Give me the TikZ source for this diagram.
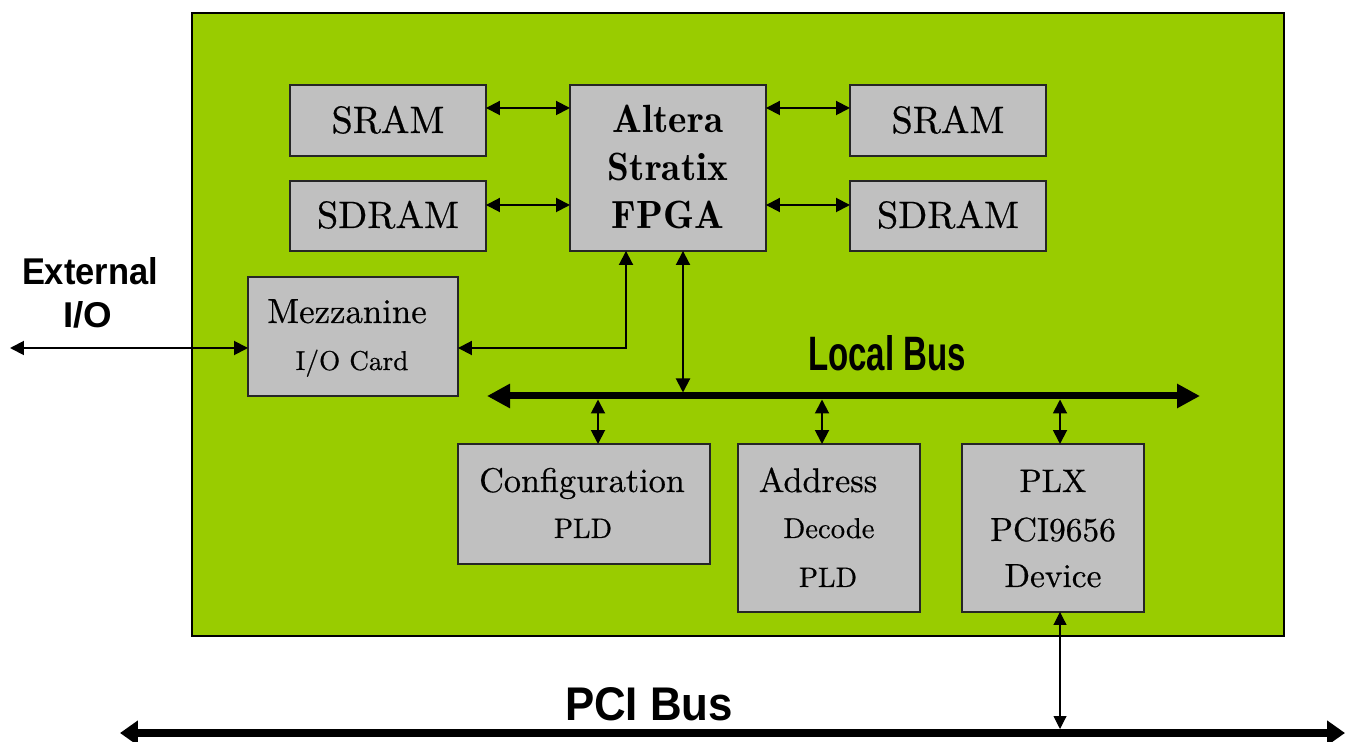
\documentclass[tikz,border=0pt]{standalone}
\usepackage{fontspec}
\usepackage{graphicx}
\usetikzlibrary{arrows.meta,calc}
\setmainfont{lmroman10-regular.otf}[FakeBold=0.5]
\newfontfamily\labelfont{Liberation Sans}
\newfontfamily\demifont{lmromandemi10-regular.otf}
\definecolor{boardgreen}{HTML}{99CC00}
\definecolor{boxgray}{HTML}{C0C0C0}
\tikzset{
  box/.style={draw=black!85, fill=boxgray, line width=1pt, inner sep=0pt, outer sep=0pt, anchor=north west},
  txt/.style={anchor=base, inner sep=0pt},
  lbl/.style={inner sep=0pt, anchor=center},
  arr/.style={line width=1.1pt, arrows={Triangle[length=2.8mm,width=2.8mm]-Triangle[length=2.8mm,width=2.8mm]}},
  thinarr/.style={line width=0.6pt, arrows={Triangle[length=2.6mm,width=2.6mm]-Triangle[length=2.6mm,width=2.6mm]}},
  lbus/.style={line width=0.14cm, arrows={Triangle[length=4.6mm,width=4.6mm]-Triangle[length=4.6mm,width=4.6mm]}},
  pbus/.style={line width=0.16cm, arrows={Triangle[length=3.6mm,width=4.8mm]-Triangle[length=3.6mm,width=4.8mm]}},
}
\begin{document}
\begin{tikzpicture}[x=0.02cm, y=-0.02cm]
\useasboundingbox (0,0) rectangle (1345,742);
% board
\node[box, draw=black, fill=boardgreen, minimum width=21.84cm, minimum height=12.46cm] (board) at (192,13) {};
% boxes
\node[box, minimum width=3.92cm, minimum height=1.42cm] (sramL) at (290,85) {};
\node[box, minimum width=3.92cm, minimum height=1.40cm] (sdramL) at (290,181) {};
\node[box, minimum width=3.92cm, minimum height=3.32cm] (fpga) at (570,85) {};
\node[box, minimum width=3.92cm, minimum height=1.42cm] (sramR) at (850,85) {};
\node[box, minimum width=3.92cm, minimum height=1.40cm] (sdramR) at (850,181) {};
\node[box, minimum width=4.20cm, minimum height=2.38cm] (mezz) at (248,277) {};
\node[box, minimum width=5.04cm, minimum height=2.40cm] (config) at (458,444) {};
\node[box, minimum width=3.64cm, minimum height=3.36cm] (addr) at (738,444) {};
\node[box, minimum width=3.64cm, minimum height=3.36cm] (plx) at (962,444) {};
% texts
\node[txt] (t1) at (388,133) {\fontsize{21.7}{26}\selectfont SRAM};
\node[txt] (t2) at (388,228) {\fontsize{21.7}{26}\selectfont SDRAM};
\node[txt] (t3) at (948,133) {\fontsize{21.7}{26}\selectfont SRAM};
\node[txt] (t4) at (948,228) {\fontsize{21.7}{26}\selectfont SDRAM};
\node[txt] (f1) at (668,133) {\demifont\fontsize{22.4}{26}\selectfont Altera};
\node[txt] (f2) at (668,181) {\demifont\fontsize{22.4}{26}\selectfont Stratix};
\node[txt] (f3) at (668,229) {\demifont\fontsize{22.4}{26}\selectfont FPGA};
\node[txt] (m1) at (347,323) {\fontsize{19.8}{24}\selectfont Mezzanine};
\node[txt] (m2) at (352,370) {\fontsize{15.5}{19}\selectfont I/O Card};
\node[txt] (c1) at (582,492) {\fontsize{19.5}{24}\selectfont Configuration};
\node[txt] (c2) at (583,538) {\fontsize{16}{20}\selectfont PLD};
\node[txt] (a1) at (818,492) {\fontsize{19.5}{24}\selectfont Address};
\node[txt] (a2) at (829,538) {\fontsize{16.3}{20}\selectfont Decode};
\node[txt] (a3) at (828,587) {\fontsize{16}{20}\selectfont PLD};
\node[txt] (p1) at (1053,492) {\fontsize{18.5}{23}\selectfont PLX};
\node[txt] (p2) at (1053,541) {\fontsize{19}{23}\selectfont PCI9656};
\node[txt] (p3) at (1053,587) {\fontsize{19}{23}\selectfont Device};
% bold sans labels
\node[lbl] (ext1) at (90,271) {\resizebox{2.72cm}{0.54cm}{\labelfont\bfseries External}};
\node[lbl] (ext2) at (88,315) {\resizebox{0.98cm}{0.52cm}{\labelfont\bfseries I/O}};
\node[lbl] (lbtxt) at (887,353) {\resizebox{3.16cm}{0.70cm}{\labelfont\bfseries Local Bus}};
\node[lbl] (pbtxt) at (649,704) {\resizebox{3.36cm}{0.66cm}{\labelfont\bfseries PCI Bus}};
% helper coordinates
\coordinate (ya) at (0,108);
\coordinate (yb) at (0,205);
\coordinate (ym) at (0,348);
\coordinate (xa) at (626,0);
\coordinate (xb) at (683,0);
\coordinate (xc) at (598,0);
\coordinate (xd) at (822,0);
\coordinate (xe) at (1060,0);
\coordinate (lbL) at (487,396);
\coordinate (lbR) at (1200,396);
\coordinate (pbL) at (120,733);
\coordinate (pbR) at (1345,733);
\coordinate (extL) at (10,348);
% memory links
\draw[arr] (sramL.east |- ya) -- (fpga.west |- ya);
\draw[arr] (sdramL.east |- yb) -- (fpga.west |- yb);
\draw[arr] (fpga.east |- ya) -- (sramR.west |- ya);
\draw[arr] (fpga.east |- yb) -- (sdramR.west |- yb);
% mezzanine
\draw[arr] (fpga.south -| xa) |- (mezz.east |- ym);
\draw[arr] (extL) -- (mezz.west |- ym);
% local bus
\draw[lbus] (lbL) -- (lbR);
\draw[arr] (fpga.south -| xb) -- ($(xb |- lbL)+(0,-3.5)$);
\draw[arr] ($(xc |- lbL)+(0,3.5)$) -- (config.north -| xc);
\draw[arr] ($(xd |- lbL)+(0,3.5)$) -- (addr.north -| xd);
\draw[arr] ($(xe |- lbL)+(0,3.5)$) -- (plx.north -| xe);
% PCI bus
\draw[pbus] (pbL) -- (pbR);
\draw[thinarr] (plx.south -| xe) -- ($(xe |- pbL)+(0,-4)$);
\end{tikzpicture}
\end{document}
